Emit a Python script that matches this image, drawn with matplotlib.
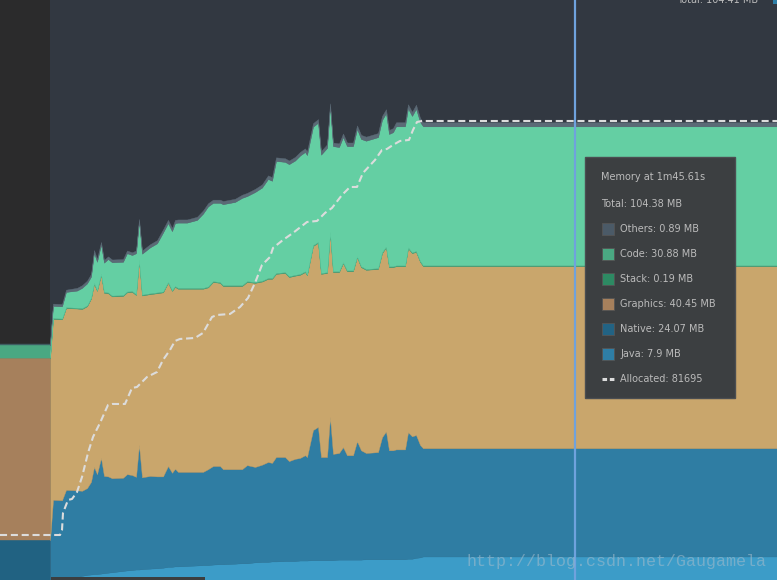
import matplotlib
matplotlib.use('Agg')
import matplotlib.pyplot as plt
from matplotlib.patches import Rectangle

# time in seconds
t = [0, 10, 10.6, 12.4, 13.2, 15.4, 16.4, 17.4, 18.2, 18.8,
     19.4, 20.2, 20.8, 21.6, 22.4, 24.6, 25.4, 26.4, 27.2, 27.8,
     28.4, 30.0, 31.4, 32.6, 33.6, 34.4, 35.0, 35.6, 37.4, 39.4,
     40.6, 41.6, 42.6, 44.0, 44.6, 47.0, 48.4, 49.4, 51.0, 52.4,
     53.6, 54.4, 55.2, 57.0, 57.8, 59.0, 60.0, 61.0, 61.4, 62.6,
     63.6, 64.2, 65.4, 66.0, 66.6, 67.8, 68.6, 69.4, 70.6, 71.4,
     72.2, 73.2, 75.6, 76.4, 77.2, 77.8, 78.6, 79.2, 81.0, 81.6,
     82.4, 83.2, 84.0, 84.6, 155.4]

# memory per category, MB
java = [2.4, 2.4, 2.9, 3.1, 3.1, 3.3, 3.6, 3.8, 3.9, 4.0,
        4.0, 4.1, 4.2, 4.3, 4.4, 4.7, 4.8, 4.9, 5.0, 5.0,
        5.1, 5.2, 5.3, 5.4, 5.6, 5.6, 5.7, 5.7, 5.8, 5.9,
        6.0, 6.0, 6.1, 6.2, 6.2, 6.3, 6.4, 6.4, 6.6, 6.7,
        6.7, 6.8, 6.8, 6.9, 6.9, 6.9, 7.0, 7.0, 7.0, 7.1,
        7.1, 7.1, 7.1, 7.1, 7.1, 7.2, 7.2, 7.2, 7.2, 7.2,
        7.2, 7.3, 7.3, 7.3, 7.3, 7.3, 7.3, 7.3, 7.3, 7.4,
        7.4, 7.6, 7.7, 7.9, 7.9]
native = [9.1, 9.1, 17.6, 17.3, 19.6, 19.3, 18.9, 19.3, 20.6, 23.8,
          22.2, 25.7, 21.6, 21.4, 20.9, 20.7, 21.4, 21.1, 20.6, 27.7,
          20.4, 20.6, 20.4, 20.3, 22.4, 20.9, 21.7, 21.0, 20.9, 20.8,
          20.7, 21.3, 21.9, 21.8, 21.1, 21.0, 20.9, 21.8, 21.2, 21.6,
          22.2, 21.9, 23.2, 23.1, 22.2, 22.7, 22.8, 23.4, 23.0, 28.9,
          29.6, 22.9, 22.9, 31.8, 23.6, 23.7, 25.0, 23.2, 23.2, 26.3,
          24.3, 23.6, 23.8, 27.1, 28.4, 24.2, 24.2, 24.4, 24.4, 28.1,
          27.2, 27.3, 25.0, 24.07, 24.07]
graphics = [40.4, 40.4, 40.2, 40.2, 40.4, 40.4, 40.4, 40.4, 40.7, 40.7,
            40.7, 40.7, 40.7, 40.7, 40.4, 40.4, 40.4, 40.7, 40.4, 40.9,
            40.4, 40.4, 40.7, 40.9, 40.7, 40.4, 40.4, 40.7, 40.7, 40.7,
            40.7, 40.4, 40.9, 40.7, 40.7, 40.7, 40.7, 40.7, 40.9, 40.7,
            40.7, 40.9, 40.7, 40.9, 40.9, 40.7, 40.7, 40.7, 40.4, 40.9,
            40.9, 40.7, 40.9, 40.9, 40.4, 40.2, 40.9, 40.9, 40.9, 40.9,
            40.7, 40.7, 40.7, 40.9, 40.9, 40.7, 40.7, 40.7, 40.7, 40.9,
            40.7, 40.7, 40.7, 40.45, 40.45]
stack = [0.19, 0.19, 0.19, 0.19, 0.19, 0.19, 0.19, 0.19, 0.19, 0.19,
         0.19, 0.19, 0.19, 0.19, 0.19, 0.19, 0.19, 0.19, 0.19, 0.19,
         0.19, 0.19, 0.19, 0.19, 0.19, 0.19, 0.19, 0.19, 0.19, 0.19,
         0.19, 0.19, 0.19, 0.19, 0.19, 0.19, 0.19, 0.19, 0.19, 0.19,
         0.19, 0.19, 0.19, 0.19, 0.19, 0.19, 0.19, 0.19, 0.19, 0.19,
         0.19, 0.19, 0.19, 0.19, 0.19, 0.19, 0.19, 0.19, 0.19, 0.19,
         0.19, 0.19, 0.19, 0.19, 0.19, 0.19, 0.19, 0.19, 0.19, 0.19,
         0.19, 0.19, 0.19, 0.19, 0.19]
code = [2.7, 2.7, 2.7, 2.7, 3.4, 3.8, 4.5, 4.9, 4.7, 6.7,
        6.3, 6.5, 6.5, 7.4, 7.4, 7.4, 8.5, 8.0, 9.1, 8.5,
        9.1, 10.2, 10.9, 13.1, 13.1, 13.1, 14.0, 14.5, 14.5, 15.1,
        16.5, 17.8, 17.4, 17.6, 18.0, 18.5, 19.4, 18.9, 20.0, 20.7,
        22.0, 21.6, 24.9, 24.5, 24.9, 25.4, 26.3, 26.5, 26.5, 26.3,
        26.5, 26.3, 27.6, 27.8, 27.8, 27.6, 27.8, 27.6, 27.6, 28.3,
        28.3, 28.5, 29.1, 29.4, 29.6, 29.4, 29.8, 30.9, 30.9, 30.9,
        30.3, 31.6, 30.9, 30.88, 30.88]
others = [0.4, 0.4, 0.5, 0.5, 0.5, 0.6, 0.6, 0.6, 0.6, 0.6,
          0.6, 0.6, 0.6, 0.6, 0.6, 0.6, 0.6, 0.6, 0.6, 0.6,
          0.7, 0.7, 0.7, 0.7, 0.7, 0.7, 0.7, 0.7, 0.7, 0.7,
          0.7, 0.7, 0.7, 0.7, 0.7, 0.7, 0.7, 0.7, 0.7, 0.7,
          0.8, 0.8, 0.8, 0.8, 0.8, 0.8, 0.8, 0.8, 0.8, 0.8,
          0.8, 0.8, 0.8, 0.8, 0.8, 0.8, 0.8, 0.8, 0.8, 0.8,
          0.9, 0.9, 0.9, 0.9, 0.9, 0.9, 0.9, 0.9, 0.9, 0.9,
          0.9, 0.9, 0.9, 0.89, 0.89]

# allocated object count
alloc_t = [0, 12.0, 12.4, 12.6, 13.6, 14.4, 15.4, 16.4, 17.6, 18.6,
           20.0, 21.6, 22.4, 25.0, 26.4, 27.4, 29.4, 31.4, 32.6, 34.0,
           35.0, 36.0, 39.0, 40.6, 42.4, 43.4, 46.0, 48.0, 49.6, 51.0,
           52.4, 54.0, 54.6, 56.6, 58.6, 61.4, 63.4, 65.0, 66.4, 68.4,
           70.0, 71.4, 72.6, 75.0, 76.4, 77.4, 78.6, 80.0, 81.8, 82.6,
           83.4, 84.4, 155.4]
alloc = [8010, 8010, 8900, 11930, 14240, 14420, 15660, 18330, 22610, 25450,
         27950, 31150, 31330, 31330, 34180, 34350, 36130, 37020, 39160, 40940,
         42540, 42900, 43080, 43970, 46810, 47170, 47350, 48590, 50200, 52870,
         56070, 57490, 59100, 60520, 61770, 63720, 63900, 65330, 66220, 68530,
         69950, 69950, 72450, 74760, 76540, 76720, 77430, 78140, 78320, 80100,
         81520, 81695, 81695]

cursor_t = 115.0
tip_title = 'Memory at 1m45.61s'
tip_total = 'Total: 104.38 MB'
tip_names = ['Others', 'Code', 'Stack', 'Graphics', 'Native', 'Java']
tip_values = ['0.89 MB', '30.88 MB', '0.19 MB', '40.45 MB', '24.07 MB', '7.9 MB']
tip_alloc = 'Allocated: 81695'

# colors: selected range (bright) and outside range (dim)
main_colors = ['#3c9cc8', '#2f7da3', '#c9a66c', '#3fa57b', '#64cfa3', '#5b6a76']
left_colors = ['#216282', '#216282', '#a6805c', '#3b8f6e', '#4aa882', '#3e5e62']
swatch_colors = ['#4b5a67', '#4aa882', '#2d8a63', '#a6805c', '#226384', '#2e7ea6']
txt_color = '#bbbbbb'

fig = plt.figure(figsize=(7.77, 5.80), dpi=100)
fig.patch.set_facecolor('#323841')

ax = fig.add_axes([0, 0, 1, 1])
ax.set_xlim(0, 155.4)
ax.set_ylim(2.67, 131.56)
ax.axis('off')
ax.axvspan(0, 10, color='#2b2b2c', lw=0)

ax.stackplot(t[:2], java[:2], native[:2], graphics[:2], stack[:2], code[:2], others[:2],
             colors=left_colors, edgecolor='face', lw=0.3)
ax.stackplot(t[1:], java[1:], native[1:], graphics[1:], stack[1:], code[1:], others[1:],
             colors=main_colors, edgecolor='face', lw=0.3)

ax2 = ax.twinx()
ax2.set_position([0, 0, 1, 1])
ax2.set_xlim(0, 155.4)
ax2.set_ylim(0, 103230)
ax2.axis('off')
ax2.plot(alloc_t, alloc, color='#dcdcdc', lw=1.5, linestyle=(0, (3.4, 1.8)), zorder=2)
ax2.axvline(cursor_t, color='#6fa2dd', lw=1.6, zorder=3)

# overlay in pixel coordinates for the UI chrome
ov = fig.add_axes([0, 0, 1, 1], zorder=5)
ov.set_xlim(0, 777)
ov.set_ylim(580, 0)
ov.axis('off')

ov.add_patch(Rectangle((585, 157), 150, 241, fc='#3c3f41', ec='#4b4e51', lw=1))
ov.text(601, 177, tip_title, color=txt_color, fontsize=7, va='center')
ov.text(601, 204, tip_total, color=txt_color, fontsize=7, va='center')
for i, (name, val, col) in enumerate(zip(tip_names, tip_values, swatch_colors)):
    y = 229 + 25 * i
    ov.add_patch(Rectangle((602, y - 6), 12, 12, fc=col, ec='#555555', lw=0.6))
    ov.text(620, y, name + ': ' + val, color=txt_color, fontsize=7, va='center')
ov.plot([602, 614], [379, 379], color='#dddddd', lw=2.2, linestyle=(0, (1.5, 0.9)))
ov.text(620, 379, tip_alloc, color=txt_color, fontsize=7, va='center')

# top-right label, partly scrolled out of view
ov.text(677, 3, 'Total: 104.41 MB', color=txt_color, fontsize=7, va='baseline')
ov.add_patch(Rectangle((772.5, -1), 6, 5, fc='#2e7ea6', lw=0))

# scrollbar
ov.add_patch(Rectangle((51, 577), 154, 4, fc='#3b3e40', lw=0))

# watermark
ov.text(467, 566, 'http://blog.csdn.net/Gaugamela', family='Liberation Mono',
        fontsize=12, color='#a6bccb', alpha=0.55, va='baseline')

fig.savefig('out.png', dpi=100, facecolor=fig.get_facecolor())
